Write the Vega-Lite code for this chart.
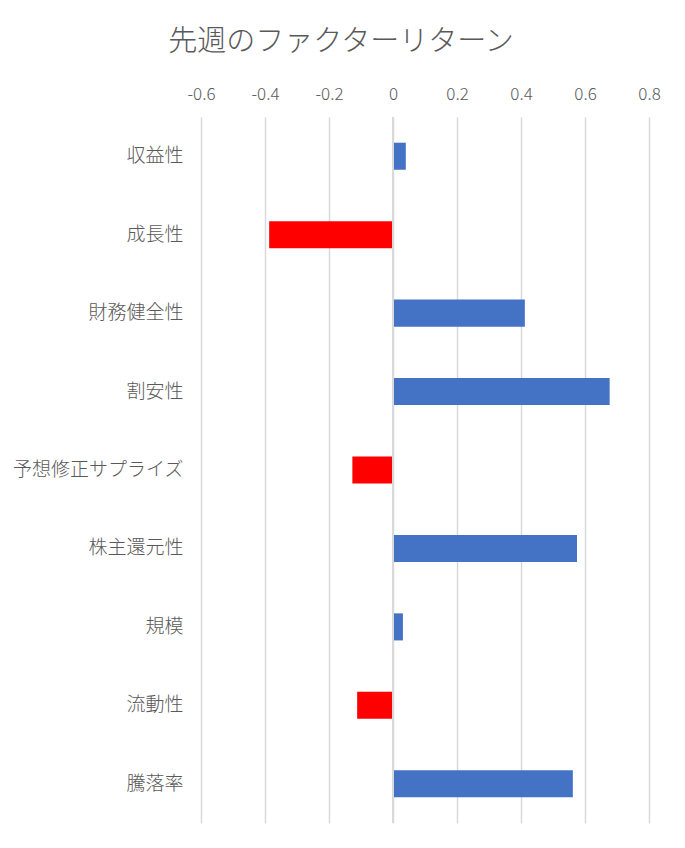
{
  "$schema": "https://vega.github.io/schema/vega-lite/v6.json",
  "width": 448,
  "height": 706,
  "autosize": {"type": "none"},
  "padding": {"left": 201, "top": 117, "right": 36, "bottom": 25},
  "background": "white",
  "title": {
    "text": "先週のファクターリターン",
    "anchor": "middle",
    "frame": "group",
    "dx": -84,
    "offset": 28,
    "fontSize": 29,
    "font": "Noto Sans CJK JP",
    "fontWeight": 300,
    "color": "#595959"
  },
  "data": {
    "values": [
      {"factor": "収益性", "value": 0.04},
      {"factor": "成長性", "value": -0.387},
      {"factor": "財務健全性", "value": 0.412},
      {"factor": "割安性", "value": 0.677},
      {"factor": "予想修正サプライズ", "value": -0.127},
      {"factor": "株主還元性", "value": 0.575},
      {"factor": "規模", "value": 0.031},
      {"factor": "流動性", "value": -0.112},
      {"factor": "騰落率", "value": 0.562}
    ]
  },
  "layer": [
    {
      "mark": {"type": "bar"},
      "encoding": {
        "y": {
          "field": "factor",
          "type": "nominal",
          "sort": null,
          "scale": {"paddingInner": 0.655, "paddingOuter": 0.3275},
          "axis": {
            "title": null,
            "domain": false,
            "ticks": false,
            "tickSize": 0,
            "labelPadding": 18,
            "labelFontSize": 19,
            "labelFont": "Noto Sans CJK JP",
            "labelFontWeight": 300,
            "labelColor": "#595959",
            "grid": false
          }
        },
        "x": {
          "field": "value",
          "type": "quantitative",
          "scale": {"domain": [-0.6, 0.8], "nice": false, "zero": false},
          "axis": {
            "orient": "top",
            "title": null,
            "values": [-0.6, -0.4, -0.2, 0, 0.2, 0.4, 0.6, 0.8],
            "labelExpr": "toString(datum.value)",
            "labelFlush": false,
            "labelOverlap": false,
            "domain": false,
            "ticks": false,
            "tickSize": 0,
            "labelPadding": 18,
            "labelBaseline": "alphabetic",
            "labelFontSize": 17,
            "labelFont": "Noto Sans CJK JP",
            "labelFontWeight": 300,
            "labelColor": "#595959",
            "grid": true,
            "gridColor": "#d9d9d9",
            "gridWidth": 1.5
          }
        },
        "color": {
          "condition": {"test": "datum.value < 0", "value": "#FF0000"},
          "value": "#4472C4"
        }
      }
    },
    {
      "mark": {"type": "rule", "color": "#d9d9d9", "strokeWidth": 1.5},
      "encoding": {
        "x": {"datum": 0, "type": "quantitative"}
      }
    }
  ],
  "config": {
    "view": {"stroke": null},
    "font": "Noto Sans CJK JP"
  }
}
